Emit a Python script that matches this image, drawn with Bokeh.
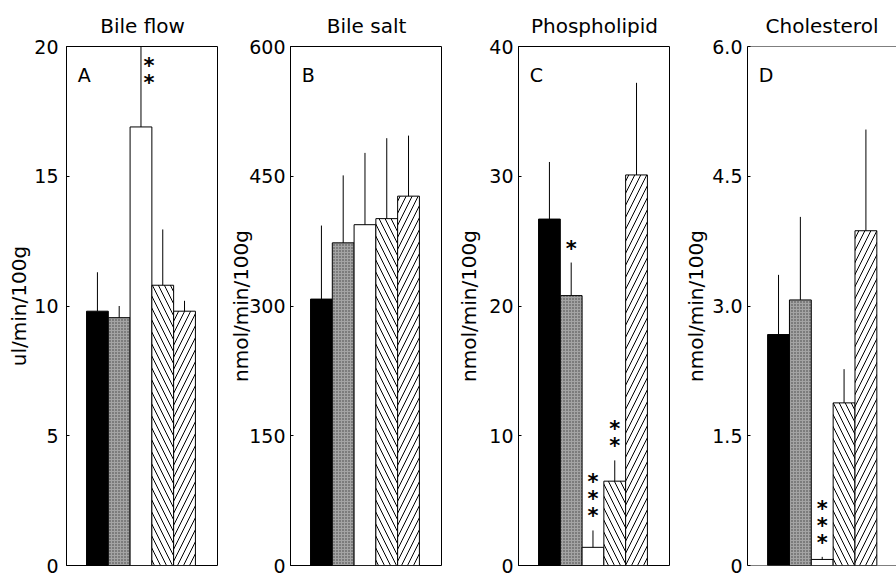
from bokeh.plotting import figure
from bokeh.layouts import row
from bokeh.models import Range1d, FixedTicker, Label, Span
from bokeh.core.properties import value
from bokeh.embed import file_html
from bokeh.resources import INLINE

# ---- data ----
bar_pos = [1, 2, 3, 4, 5]
titles = ["Bile flow", "Bile salt", "Phospholipid", "Cholesterol"]
letters = ["A", "B", "C", "D"]
ylabels = ["ul/min/100g", "nmol/min/100g", "nmol/min/100g", "nmol/min/100g"]
ymax = [20, 600, 40, 6.0]
yticks = [[0, 5, 10, 15, 20], [0, 150, 300, 450, 600], [0, 10, 20, 30, 40], [0, 1.5, 3.0, 4.5, 6.0]]
ytick_labels = [["0", "5", "10", "15", "20"], ["0", "150", "300", "450", "600"],
                ["0", "10", "20", "30", "40"], ["0", "1.5", "3.0", "4.5", "6.0"]]

bile_flow_mean = [9.8, 9.55, 16.9, 10.8, 9.8]
bile_flow_sd = [1.5, 0.45, 3.1, 2.15, 0.4]
bile_salt_mean = [308, 373, 394, 401, 427]
bile_salt_sd = [85, 78, 83, 93, 70]
phospholipid_mean = [26.7, 20.8, 1.4, 6.5, 30.1]
phospholipid_sd = [4.4, 2.55, 1.3, 1.6, 7.1]
cholesterol_mean = [2.67, 3.07, 0.07, 1.88, 3.87]
cholesterol_sd = [0.69, 0.96, 0.03, 0.39, 1.17]

means = [bile_flow_mean, bile_salt_mean, phospholipid_mean, cholesterol_mean]
sds = [bile_flow_sd, bile_salt_sd, phospholipid_sd, cholesterol_sd]

# significance marks: (panel, bar index 0-based, number of stars)
sig_panel = [0, 2, 2, 2, 3]
sig_bar = [2, 1, 2, 3, 2]
sig_count = [2, 1, 3, 2, 3]

# ---- styles ----
FONT = "DejaVu Sans"
fills = ["black", "#a4a4a4", "white", "white", "white"]
hatches = [" ", ".", " ", "\\", "/"]
hatch_colors = ["black", "#404040", "black", "black", "black"]
hatch_scales = [12, 3, 12, 12, 12]

fig_w = [218, 224, 228, 226]
border_l = [66, 72, 76, 77]
x_end = [6.56, 6.56, 6.56, 6.40]
tick_standoff = [8, 5, 5, 5]
label_standoff = [0, -7, 5, 1]
FRAME_H = 519

figs = []
for k in range(4):
    p = figure(width=fig_w[k], height=576, output_backend="svg", toolbar_location=None,
               min_border_left=border_l[k], min_border_right=0, min_border_top=46,
               min_border_bottom=11, x_range=Range1d(-0.42, x_end[k]),
               y_range=Range1d(0, ymax[k]), title=titles[k])
    p.title.text_font = FONT
    p.title.text_font_size = "20px"
    p.title.text_font_style = "normal"
    p.title.text_color = "black"
    p.title.align = "center"
    p.title.standoff = 17
    p.xaxis.visible = False
    p.xgrid.visible = False
    p.ygrid.visible = False
    p.background_fill_color = "white"
    p.border_fill_color = "white"
    ax = p.yaxis[0]
    ax.ticker = FixedTicker(ticks=yticks[k])
    ax.major_label_overrides = {t: s for t, s in zip(yticks[k], ytick_labels[k])}
    ax.minor_tick_line_color = None
    ax.major_tick_in = 3
    ax.major_tick_out = 0
    ax.major_label_standoff = tick_standoff[k]
    ax.major_label_text_font = FONT
    ax.major_label_text_font_size = "19px"
    ax.major_label_text_color = "black"
    ax.axis_label = ylabels[k]
    ax.axis_label_text_font = FONT
    ax.axis_label_text_font_size = "20px"
    ax.axis_label_text_font_style = "normal"
    ax.axis_label_text_color = "black"
    ax.axis_label_standoff = label_standoff[k]
    ax.axis_line_color = "black"
    ax.major_tick_line_color = "black"
    if k < 3:
        p.outline_line_color = "black"
        p.outline_line_width = 1
        p.outline_line_alpha = 1
    else:
        p.outline_line_color = None
        p.add_layout(Span(location=ymax[k], dimension="width", line_color="black", line_width=1))
        p.add_layout(Span(location=0, dimension="width", line_color="black", line_width=1))

    m = means[k]
    s = sds[k]
    for i in range(5):
        p.vbar(x=[bar_pos[i]], top=[m[i]], bottom=0, width=1.0,
               fill_color=fills[i], line_color="black", line_width=1,
               hatch_pattern=hatches[i], hatch_color=hatch_colors[i],
               hatch_scale=hatch_scales[i], hatch_weight=1)
    p.segment(x0=bar_pos, y0=m, x1=bar_pos, y1=[a + b for a, b in zip(m, s)],
              line_color="black", line_width=1)

    ppu = FRAME_H / ymax[k]
    # panel letter
    p.add_layout(Label(x=0.1, y=ymax[k] - 28 / ppu, text=letters[k], text_font=FONT,
                       text_font_size="19px", text_color="black", text_baseline="alphabetic"))

    # stars
    sx, sy = [], []
    for pn, bi, cnt in zip(sig_panel, sig_bar, sig_count):
        if pn != k:
            continue
        top = m[bi] + s[bi]
        first = top + 19 / ppu
        if first + 17 * (cnt - 1) / ppu > ymax[k]:
            for j in range(cnt):
                sx.append(bar_pos[bi] + 0.37)
                sy.append(ymax[k] - (14 + 17 * j) / ppu)
        else:
            for j in range(cnt):
                sx.append(bar_pos[bi])
                sy.append(first + 17 * j / ppu)
    if sx:
        p.text(x=sx, y=sy, text=["*"] * len(sx), text_font=value("DejaVu Sans"),
               text_font_size="21px", text_font_style="bold", text_align="center",
               text_baseline="middle", y_offset=5, text_color="black")
    figs.append(p)

layout = row(*figs, spacing=0)
open("out.html", "w").write(file_html(layout, INLINE))
